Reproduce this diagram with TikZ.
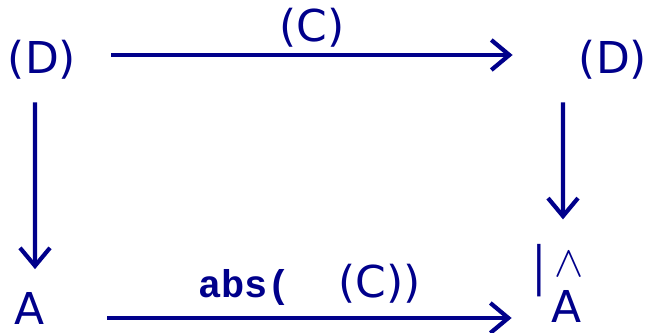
\documentclass[tikz,border=0pt]{standalone}
\usepackage{fontspec}
\setmainfont{DejaVu Sans}
\newfontfamily\codefont{Liberation Mono}
\usepackage{tikz}
\usetikzlibrary{calc, positioning, arrows.meta}
\usepackage{xcolor}
\definecolor{navy}{RGB}{0, 0, 139}

\begin{document}
\begin{tikzpicture}[
  x=0.02cm, y=-0.02cm,
  every node/.style={inner sep=0pt, text=navy, font=\fontsize{25}{30}\selectfont},
  arr/.style={-{Straight Barb[length=3.6mm, width=6mm]}, line width=2.4pt, navy},
  >=Stealth
]
  \useasboundingbox (0,0) rectangle (645,333);

  % --- Corners ---
  \node (D1) at (42,60)  {(D)};
  \node (D2) at (613,60) {(D)};
  \node (A1) at (30,308) {A};
  \node (A2) at (567,306) {A};
  \node (H2) at (558,271) {\scalebox{1}[1.3]{\fontsize{23}{23}\selectfont|}\kern0.2em\raisebox{0.2em}{\fontsize{48}{48}\selectfont$\wedge$}};

  % --- Arrows ---
  \draw[arr] ([xshift=0.7cm,yshift=0.1cm]D1.east) -- ([xshift=-1.32cm,yshift=0.1cm]D2.west)
    node[midway, above=0.12cm] (lc) {(C)};
  \draw[arr] ([xshift=1.24cm,yshift=-0.2cm]A1.east) -- ([xshift=-0.8cm,yshift=-0.2cm]A2.west |- A1.east)
    node[midway, above=0.2cm] (la) {{\codefont\bfseries\fontsize{22}{25}\selectfont abs(}\hspace{0.95cm}(C))};
  \draw[arr, shorten >=0.45cm] ([xshift=-0.14cm,yshift=-0.45cm]D1.south) -- ([xshift=0.1cm]A1.north);
  \draw[arr, shorten >=0.5cm] ([xshift=-1cm,yshift=-0.45cm]D2.south) -- (H2.north -| 563,0);
\end{tikzpicture}
\end{document}
